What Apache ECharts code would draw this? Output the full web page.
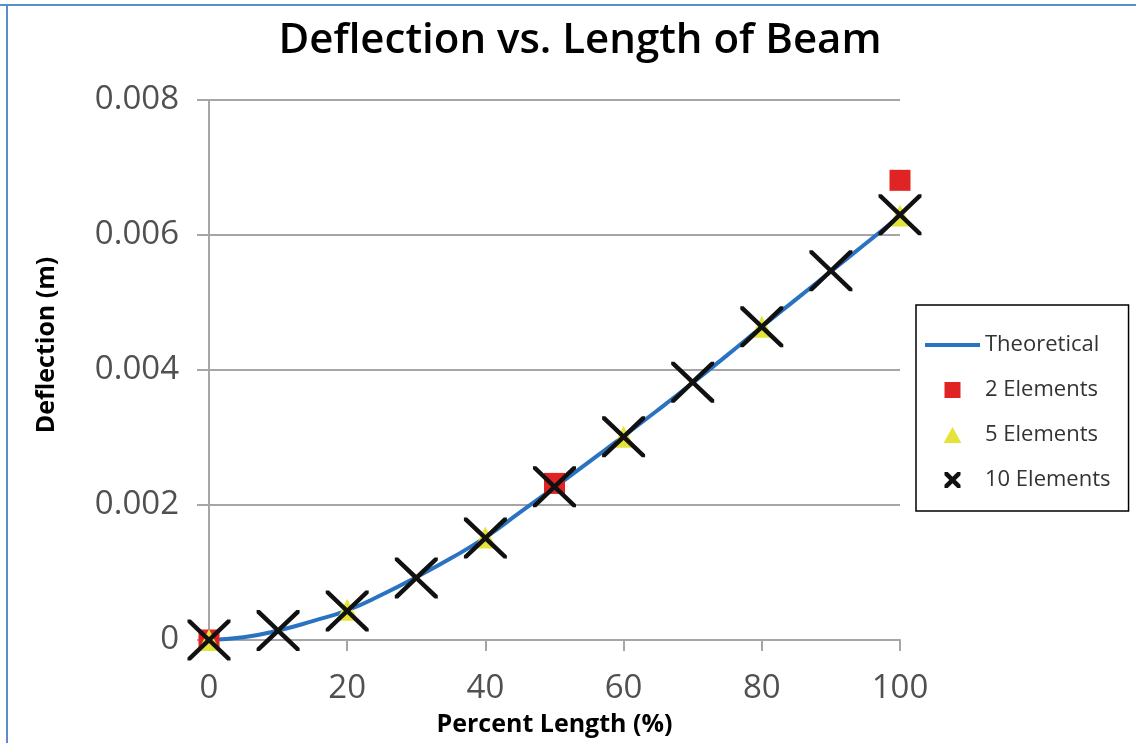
<!DOCTYPE html>
<html>
<head>
<meta charset="utf-8">
<script src="https://cdn.jsdelivr.net/npm/echarts@6/dist/echarts.min.js"></script>
<style>
  html, body { margin: 0; padding: 0; background: #fff; }
  #chart { width: 1136px; height: 743px; }
</style>
</head>
<body>
<div id="chart"></div>
<script>
// Data
const theoX = [0, 5, 10, 15, 20, 25, 30, 35, 40, 45, 50, 55, 60, 65, 70, 75, 80, 85, 90, 95, 100];
const theoY = [0, 0.00004, 0.00014, 0.00028, 0.00044, 0.00067, 0.00093, 0.00121, 0.00152, 0.00189, 0.00226, 0.00264, 0.00302, 0.00341, 0.00381, 0.00422, 0.00464, 0.00505, 0.00546, 0.00587, 0.00628];
const el2X = [0, 50, 100];
const el2Y = [0, 0.00232, 0.00681];
const el5X = [0, 20, 40, 60, 80, 100];
const el5Y = [0, 0.00045, 0.00152, 0.00301, 0.00464, 0.00629];
const el10X = [0, 10, 20, 30, 40, 50, 60, 70, 80, 90, 100];
const el10Y = [0, 0.00014, 0.00043, 0.00092, 0.00151, 0.00227, 0.00301, 0.00382, 0.00464, 0.00547, 0.0063];
const seriesNames = ['Theoretical', '2 Elements', '5 Elements', '10 Elements'];
const xTicks = { min: 0, max: 100, interval: 20 };
const yTicks = { min: 0, max: 0.008, interval: 0.002 };

const pair = (xs, ys) => xs.map((x, i) => [x, ys[i]]);
const FONT = 'Open Sans';
const xPath = 'path://M0,0 L3,0 L20,17 L37,0 L40,0 L40,3 L23,20 L40,37 L40,40 L37,40 L20,23 L3,40 L0,40 L0,37 L17,20 L0,3 Z';
const xIcon = 'path://M0,0 L8,0 L20,12 L32,0 L40,0 L40,8 L28,20 L40,32 L40,40 L32,40 L20,28 L8,40 L0,40 L0,32 L12,20 L0,8 Z';
const sqIcon = 'path://M0,0 L10,0 L10,10 L0,10 Z';
const triIcon = 'path://M5,0 L10,9 L0,9 Z';
const lineIcon = 'path://M0,0 L55,0 L55,4 L0,4 Z';

const chart = echarts.init(document.getElementById('chart'), null, { renderer: 'canvas' });
chart.setOption({
  backgroundColor: '#fff',
  animation: false,
  title: {
    text: 'Deflection vs. Length of Beam',
    left: 575, top: 15, textAlign: 'center',
    textStyle: { fontFamily: FONT, fontSize: 42, fontWeight: 600, color: '#000' }
  },
  graphic: [
    { type: 'line', shape: { x1: 0, y1: 5, x2: 1136, y2: 5 }, style: { stroke: '#5b8ccb', lineWidth: 2 } },
    { type: 'line', shape: { x1: 7, y1: 4, x2: 7, y2: 743 }, style: { stroke: '#5b8ccb', lineWidth: 2 } }
  ],
  grid: { left: 209, right: 236, top: 100, bottom: 103, containLabel: false },
  legend: {
    orient: 'vertical',
    left: 916, top: 305,
    padding: [29, 18, 20, 9],
    borderColor: '#000', borderWidth: 1.5,
    itemWidth: 55, itemHeight: 16, itemGap: 23,
    symbolKeepAspect: true,
    textStyle: { fontFamily: FONT, fontSize: 22, color: '#333' },
    data: [
      { name: seriesNames[0], icon: lineIcon },
      { name: seriesNames[1], icon: sqIcon },
      { name: seriesNames[2], icon: triIcon },
      { name: seriesNames[3], icon: xIcon }
    ]
  },
  xAxis: {
    type: 'value', min: xTicks.min, max: xTicks.max, interval: xTicks.interval,
    name: 'Percent Length (%)', nameLocation: 'middle', nameGap: 72,
    nameTextStyle: { fontFamily: FONT, fontSize: 25, fontWeight: 'bold', color: '#000' },
    axisLine: { show: true, lineStyle: { color: '#a6a6a6', width: 2 } },
    axisTick: { show: true, length: 11, lineStyle: { color: '#a6a6a6', width: 2 } },
    axisLabel: { margin: 32, fontFamily: FONT, fontSize: 33, color: '#505050' },
    splitLine: { show: false }
  },
  yAxis: {
    type: 'value', min: yTicks.min, max: yTicks.max, interval: yTicks.interval,
    name: 'Deflection (m)', nameLocation: 'middle', nameGap: 150,
    nameTextStyle: { fontFamily: FONT, fontSize: 25, fontWeight: 'bold', color: '#000',
      padding: [0, 0, 0, 50] },
    axisLine: { show: true, lineStyle: { color: '#a6a6a6', width: 2 } },
    axisTick: { show: true, length: 12, lineStyle: { color: '#a6a6a6', width: 2 } },
    axisLabel: { margin: 30, fontFamily: FONT, fontSize: 33, color: '#505050',
      formatter: v => v === 0 ? '0' : v.toFixed(3) },
    splitLine: { show: true, lineStyle: { color: '#a6a6a6', width: 2 } }
  },
  series: [
    {
      name: seriesNames[0], type: 'line', data: pair(theoX, theoY),
      smooth: true, symbol: 'none', showSymbol: false,
      lineStyle: { color: '#2a72c2', width: 4 }, itemStyle: { color: '#2a72c2' }, z: 2
    },
    {
      name: seriesNames[1], type: 'scatter', data: pair(el2X, el2Y),
      symbol: 'rect', symbolSize: 21,
      itemStyle: { color: '#e02323', opacity: 1 }, z: 3
    },
    {
      name: seriesNames[2], type: 'scatter', data: pair(el5X, el5Y),
      symbol: 'triangle', symbolSize: 22,
      itemStyle: { color: '#e3e33a', opacity: 1 }, z: 4
    },
    {
      name: seriesNames[3], type: 'scatter', data: pair(el10X, el10Y),
      symbol: xPath, symbolSize: [43, 41],
      itemStyle: { color: '#111', opacity: 1 }, z: 5
    }
  ]
});
</script>
</body>
</html>
